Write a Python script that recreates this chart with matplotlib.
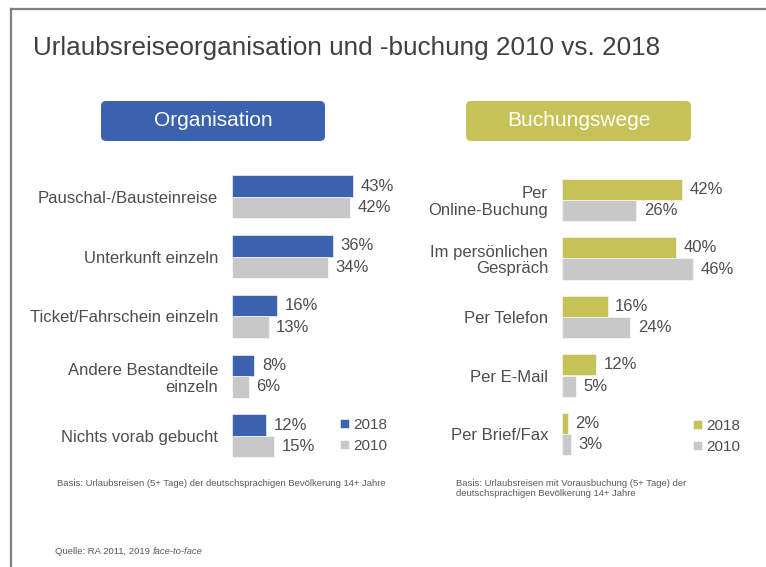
import matplotlib
matplotlib.use('Agg')
import matplotlib.pyplot as plt
from matplotlib.patches import FancyBboxPatch
from matplotlib.lines import Line2D

plt.rcParams['font.family'] = ['Liberation Sans', 'DejaVu Sans']

W, H = 766, 567

# Daten
org_labels = ['Pauschal-/Bausteinreise', 'Unterkunft einzeln', 'Ticket/Fahrschein einzeln',
              'Andere Bestandteile\neinzeln', 'Nichts vorab gebucht']
org_2018 = [43, 36, 16, 8, 12]
org_2010 = [42, 34, 13, 6, 15]

buch_labels = ['Per\nOnline-Buchung', 'Im persönlichen\nGespräch', 'Per Telefon',
               'Per E-Mail', 'Per Brief/Fax']
buch_2018 = [42, 40, 16, 12, 2]
buch_2010 = [26, 46, 24, 5, 3]

years = ['2018', '2010']

blue = '#3A62AE'
olive = '#C5C358'
grey = '#C8C8C8'
text_col = '#4D4D4D'

fig = plt.figure(figsize=(W / 100, H / 100), dpi=100)


def px_axes(x, y, w, h):
    # x, y = obere linke Ecke in Pixeln
    return fig.add_axes([x / W, 1 - (y + h) / H, w / W, h / H])


def panel(ax, labels, v18, v10, col, leg_xy, lsp):
    pos = list(range(len(labels)))
    bh = 0.36
    ax.barh([p - bh / 2 for p in pos], v18, height=bh, color=col,
            edgecolor='white', linewidth=0.4, label=years[0])
    ax.barh([p + bh / 2 for p in pos], v10, height=bh, color=grey,
            edgecolor='white', linewidth=0.4, label=years[1])
    ax.set_xlim(0, 50)
    ax.set_ylim(len(labels) - 0.5, -0.5)
    ax.set_yticks(pos)
    ax.set_yticklabels(labels, fontsize=12, color=text_col, linespacing=lsp)
    ax.tick_params(axis='y', length=0, pad=10)
    ax.set_xticks([])
    for s in ax.spines.values():
        s.set_visible(False)
    ax.patch.set_visible(False)
    for p, a, b in zip(pos, v18, v10):
        ax.annotate(f'{a}%', (a, p - bh / 2), xytext=(5.5, 0), textcoords='offset points',
                    va='center', ha='left', fontsize=12, color=text_col)
        ax.annotate(f'{b}%', (b, p + bh / 2), xytext=(5.5, 0), textcoords='offset points',
                    va='center', ha='left', fontsize=12, color=text_col)
    leg = ax.legend(loc='upper left', bbox_to_anchor=(leg_xy[0] / W, 1 - leg_xy[1] / H),
                    bbox_transform=fig.transFigure, frameon=False, fontsize=11,
                    handlelength=0.6, handleheight=0.6, handletextpad=0.25,
                    labelspacing=0.45, borderpad=0, borderaxespad=0)
    for t in leg.get_texts():
        t.set_color(text_col)


ax1 = px_axes(232, 167.1, 140.5, 298.75)
panel(ax1, org_labels, org_2018, org_2010, blue, (340, 418), 1.2)

ax2 = px_axes(562, 170.75, 142.5, 292.5)
panel(ax2, buch_labels, buch_2018, buch_2010, olive, (693, 419), 1.1)

# Kopfboxen
for (x0, x1, txt, col) in [(101, 325, 'Organisation', blue), (466, 691, 'Buchungswege', olive)]:
    y0, y1 = 101, 141
    box = FancyBboxPatch((x0 / 100, (H - y1) / 100), (x1 - x0) / 100, (y1 - y0) / 100,
                         boxstyle='round,pad=0,rounding_size=0.05',
                         transform=fig.dpi_scale_trans, facecolor=col, edgecolor='none')
    fig.patches.append(box)
    fig.text((x0 + x1) / 2 / W, 1 - (y0 + y1) / 2 / H, txt, color='white', fontsize=15,
             ha='center', va='center')

# Titel
fig.text(33 / W, 1 - 47.5 / H, 'Urlaubsreiseorganisation und -buchung 2010 vs. 2018',
         fontsize=18.8, color='#3F3F3F', ha='left', va='center')

# Rahmen
fig.add_artist(Line2D([11 / W, 1], [1 - 9 / H, 1 - 9 / H], transform=fig.transFigure,
                      color='#7F7F7F', lw=1.6))
fig.add_artist(Line2D([11 / W, 11 / W], [0, 1 - 9 / H], transform=fig.transFigure,
                      color='#7F7F7F', lw=1.6))

# Fussnoten
fig.text(57 / W, 1 - 484 / H,
         'Basis: Urlaubsreisen (5+ Tage) der deutschsprachigen Bevölkerung 14+ Jahre',
         fontsize=6.8, color='#595959', ha='left', va='center')
fig.text(456 / W, 1 - 488.5 / H,
         'Basis: Urlaubsreisen mit Vorausbuchung (5+ Tage) der\ndeutschsprachigen Bevölkerung 14+ Jahre',
         fontsize=6.8, color='#595959', ha='left', va='center', linespacing=1.1)
q = fig.text(55 / W, 1 - 554 / H, 'Quelle: RA 2011, 2019 ', fontsize=6.8, color='#595959',
             ha='left', va='baseline')
fig.add_artist(plt.Annotation('face-to-face', xy=(1, 0), xycoords=q, fontsize=6.8,
                              color='#595959', style='italic', ha='left', va='bottom',
                              annotation_clip=False))

fig.savefig('out.png', dpi=100)
